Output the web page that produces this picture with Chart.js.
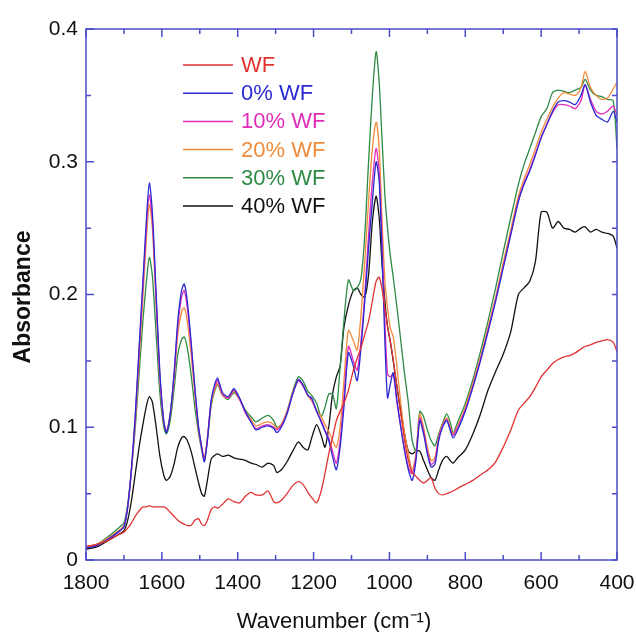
<!DOCTYPE html>
<html lang="en">
<head>
    <meta charset="UTF-8">
    <title>FTIR spectra - WF</title>
    <script src="https://cdn.jsdelivr.net/npm/chart.js@4.4.1/dist/chart.umd.min.js"></script>
    <style>
        body { margin: 0; background: #fff; }
        .wrap { width: 636px; height: 632px; }
    </style>
</head>
<body>
    <div class="wrap"><canvas id="ftir"></canvas></div>
    <script>
        // wavenumbers (cm-1) shared by all spectra
        const wavenumbers = [1800,1770,1740,1715,1700,1690,1680,1670,1660,1650,
            1640,1633,1625,1615,1605,1595,1588,1578,1568,1558,
            1548,1541,1533,1523,1513,1503,1495,1488,1480,1470,
            1460,1453,1440,1425,1410,1395,1380,1365,1352,1335,
            1320,1305,1297,1285,1270,1255,1240,1228,1215,1205,
            1192,1180,1170,1160,1150,1140,1130,1120,1108,1095,
            1085,1075,1065,1055,1045,1035,1027,1020,1012,1005,
            998,990,980,970,960,950,940,930,920,910,
            900,890,880,870,860,849,840,832,820,800,
            780,760,740,720,700,680,660,645,630,615,
            600,585,570,555,540,525,510,495,484,470,
            455,440,425,410,400];

        const labels = ['WF', '0% WF', '10% WF', '20% WF', '30% WF', '40% WF'];
        const colors = ['#e03232', '#2a2ad2', '#e02cb8', '#f08c3c', '#2e8a44', '#111111'];

        const wf = [.010,.012,.015,.019,.021,.024,.028,.033,.037,.040,
            .040,.041,.040,.040,.040,.040,.039,.036,.033,.030,
            .028,.027,.026,.026,.030,.031,.027,.026,.030,.038,
            .040,.039,.042,.046,.044,.043,.048,.051,.049,.049,
            .052,.044,.043,.045,.050,.056,.059,.057,.051,.047,
            .043,.052,.065,.080,.092,.105,.112,.118,.128,.143,
            .152,.160,.170,.180,.195,.210,.213,.205,.190,.176,
            .165,.151,.130,.110,.090,.075,.066,.063,.060,.058,
            .060,.062,.054,.050,.049,.050,.051,.052,.054,.057,
            .060,.064,.068,.074,.085,.098,.113,.118,.123,.130,
            .138,.143,.148,.151,.153,.154,.156,.159,.161,.162,
            .164,.165,.166,.164,.157];

        const wf0 = [.009,.011,.016,.021,.025,.040,.070,.110,.160,.210,
            .260,.284,.262,.200,.140,.105,.096,.110,.140,.180,
            .203,.208,.195,.165,.130,.100,.085,.074,.090,.120,
            .133,.137,.126,.123,.129,.122,.112,.104,.098,.100,
            .101,.099,.096,.100,.110,.125,.136,.132,.124,.122,
            .112,.104,.097,.090,.078,.068,.085,.115,.156,.146,
            .135,.160,.195,.235,.270,.300,.285,.235,.165,.122,
            .132,.141,.120,.100,.082,.068,.060,.075,.105,.095,
            .080,.070,.072,.090,.100,.105,.098,.092,.098,.112,
            .130,.150,.172,.195,.220,.245,.270,.283,.293,.305,
            .318,.328,.338,.345,.346,.345,.343,.350,.358,.345,
            .335,.332,.330,.338,.330];

        const wf10 = [.009,.011,.016,.021,.025,.040,.068,.108,.158,.205,
            .255,.275,.256,.196,.138,.104,.097,.110,.138,.176,
            .198,.203,.190,.162,.128,.099,.085,.076,.091,.120,
            .131,.135,.125,.122,.128,.121,.111,.104,.099,.101,
            .102,.100,.098,.101,.111,.125,.135,.131,.124,.121,
            .112,.105,.098,.092,.082,.073,.090,.122,.161,.150,
            .143,.165,.200,.245,.285,.310,.292,.245,.180,.140,
            .138,.140,.118,.100,.083,.070,.065,.078,.107,.097,
            .082,.072,.075,.092,.101,.106,.099,.094,.100,.113,
            .131,.151,.173,.196,.221,.246,.271,.284,.294,.306,
            .318,.328,.337,.343,.343,.342,.340,.346,.358,.347,
            .338,.336,.338,.342,.335];

        const wf20 = [.010,.012,.017,.022,.026,.040,.068,.105,.150,.198,
            .245,.268,.250,.192,.136,.103,.097,.110,.135,.170,
            .187,.190,.180,.155,.125,.098,.085,.077,.092,.118,
            .129,.133,.124,.122,.127,.121,.112,.106,.101,.103,
            .104,.102,.099,.102,.112,.126,.136,.132,.124,.120,
            .113,.108,.102,.097,.090,.085,.100,.135,.173,.165,
            .158,.185,.225,.270,.310,.330,.310,.260,.210,.190,
            .175,.168,.145,.118,.095,.080,.068,.080,.110,.100,
            .085,.075,.077,.093,.102,.107,.100,.095,.101,.115,
            .133,.153,.175,.198,.224,.249,.274,.287,.298,.310,
            .322,.332,.341,.348,.352,.351,.350,.356,.368,.356,
            .350,.347,.348,.355,.360];

        const wf30 = [.010,.012,.018,.024,.028,.042,.068,.100,.140,.180,
            .212,.228,.214,.170,.125,.100,.095,.105,.128,.155,
            .166,.168,.160,.140,.115,.095,.083,.075,.090,.116,
            .128,.132,.124,.121,.126,.121,.113,.108,.104,.107,
            .109,.105,.100,.102,.112,.127,.138,.135,.127,.124,
            .118,.108,.115,.125,.125,.114,.145,.180,.211,.203,
            .205,.212,.245,.300,.350,.383,.360,.320,.275,.250,
            .230,.213,.190,.165,.140,.118,.090,.082,.112,.108,
            .098,.090,.086,.095,.103,.110,.104,.096,.104,.118,
            .136,.157,.180,.205,.232,.258,.283,.298,.310,.322,
            .334,.340,.352,.354,.353,.352,.354,.356,.362,.354,
            .350,.349,.347,.346,.310];

        const wf40 = [.008,.010,.015,.019,.022,.030,.045,.065,.085,.102,
            .117,.123,.119,.100,.078,.064,.060,.063,.072,.085,
            .092,.093,.090,.082,.070,.058,.050,.048,.060,.076,
            .079,.080,.078,.079,.077,.076,.075,.073,.072,.070,
            .073,.071,.066,.068,.074,.082,.089,.085,.083,.092,
            .102,.094,.085,.100,.125,.138,.146,.175,.192,.203,
            .205,.200,.198,.215,.255,.274,.258,.225,.195,.176,
            .165,.150,.130,.112,.095,.082,.080,.082,.082,.075,
            .068,.062,.060,.068,.075,.078,.075,.073,.077,.083,
            .095,.110,.128,.142,.155,.172,.200,.205,.210,.225,
            .262,.262,.250,.255,.250,.249,.247,.250,.251,.247,
            .249,.247,.246,.244,.235];

        const series = [wf, wf0, wf10, wf20, wf30, wf40];
        const xTickLabels = [1800, 1600, 1400, 1200, 1000, 800, 600, 400];
        const yTickLabels = [0, 0.1, 0.2, 0.3, 0.4];

        const axisColor = '#4b4bc8';
        const fontFamily = 'Arial, "Liberation Sans", sans-serif';

        // frame, inward ticks, legend and axis titles
        const decorations = {
            id: 'decorations',
            afterDatasetsDraw(chart) {
                const { ctx, chartArea: a, scales: { x, y } } = chart;
                ctx.save();
                ctx.strokeStyle = axisColor;
                ctx.lineWidth = 1.5;
                ctx.strokeRect(a.left, a.top, a.right - a.left, a.bottom - a.top);

                ctx.beginPath();
                for (let w = 1800; w >= 400; w -= 100) {
                    const px = x.getPixelForValue(w);
                    const len = w % 200 === 0 ? 8 : 5;
                    ctx.moveTo(px, a.bottom); ctx.lineTo(px, a.bottom - len);
                    ctx.moveTo(px, a.top); ctx.lineTo(px, a.top + len);
                }
                for (let i = 0; i <= 8; i++) {
                    const py = y.getPixelForValue(i * 0.05);
                    const len = i % 2 === 0 ? 8 : 5;
                    ctx.moveTo(a.left, py); ctx.lineTo(a.left + len, py);
                    ctx.moveTo(a.right, py); ctx.lineTo(a.right - 5, py);
                }
                ctx.stroke();

                // legend inside the plot
                ctx.font = '22px ' + fontFamily;
                ctx.textBaseline = 'middle';
                chart.data.datasets.forEach((ds, i) => {
                    const ly = 65 + i * 28.2;
                    ctx.strokeStyle = ds.borderColor;
                    ctx.lineWidth = 1.5;
                    ctx.beginPath();
                    ctx.moveTo(183, ly); ctx.lineTo(233, ly);
                    ctx.stroke();
                    ctx.fillStyle = ds.borderColor;
                    ctx.fillText(ds.label, 241, ly + 1);
                });

                // axis titles
                ctx.fillStyle = '#111';
                ctx.textAlign = 'center';
                ctx.textBaseline = 'alphabetic';
                ctx.font = '22px ' + fontFamily;
                ctx.fillText('Wavenumber (cm\u207B\u00B9)', 334, 628);
                ctx.translate(30, 297);
                ctx.rotate(-Math.PI / 2);
                ctx.font = 'bold 23px ' + fontFamily;
                ctx.fillText('Absorbance', 0, 0);
                ctx.restore();
            }
        };

        new Chart(document.getElementById('ftir'), {
            type: 'line',
            data: {
                datasets: series.map((vals, i) => ({
                    label: labels[i],
                    data: wavenumbers.map((w, j) => ({ x: w, y: vals[j] })),
                    borderColor: colors[i],
                    backgroundColor: colors[i],
                    borderWidth: 1.3,
                    pointRadius: 0,
                    tension: 0.25,
                    fill: false
                }))
            },
            options: {
                responsive: true,
                maintainAspectRatio: false,
                animation: false,
                layout: { padding: { top: 29, right: 19, left: 0, bottom: 0 } },
                plugins: { legend: { display: false }, tooltip: { enabled: false } },
                scales: {
                    x: {
                        type: 'linear',
                        reverse: true,
                        min: 400,
                        max: 1800,
                        afterFit: s => { s.height = 72; s.paddingLeft = 0; s.paddingRight = 0; },
                        afterBuildTicks: s => { s.ticks = xTickLabels.map(v => ({ value: v })); },
                        grid: { display: false, drawTicks: false },
                        border: { display: false },
                        ticks: {
                            color: '#111', padding: 11, maxRotation: 0,
                            font: { size: 21, family: fontFamily },
                            callback: v => String(v)
                        }
                    },
                    y: {
                        min: 0,
                        max: 0.4,
                        afterFit: s => { s.width = 86; s.paddingTop = 0; s.paddingBottom = 0; },
                        afterBuildTicks: s => { s.ticks = yTickLabels.map(v => ({ value: v })); },
                        grid: { display: false, drawTicks: false },
                        border: { display: false },
                        ticks: {
                            color: '#111', padding: 8,
                            font: { size: 21, family: fontFamily },
                            callback: v => v === 0 ? '0' : v.toFixed(1)
                        }
                    }
                }
            },
            plugins: [decorations]
        });
    </script>
</body>
</html>
